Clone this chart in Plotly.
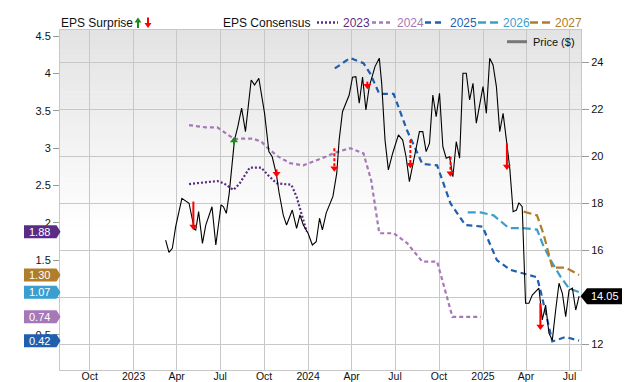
import plotly.graph_objects as go

# ---------------- data ----------------
price_dates = [
    "2023-03-09", "2023-03-16", "2023-03-23", "2023-03-30", "2023-04-12", "2023-04-27",
    "2023-05-08", "2023-05-11", "2023-05-17", "2023-05-25", "2023-06-01", "2023-06-14",
    "2023-06-22", "2023-07-03", "2023-07-08", "2023-07-14", "2023-07-20", "2023-07-31",
    "2023-08-07", "2023-08-15", "2023-08-23", "2023-09-04", "2023-09-11", "2023-09-20",
    "2023-10-02", "2023-10-11", "2023-10-18", "2023-10-27", "2023-11-01", "2023-11-10",
    "2023-11-17", "2023-11-29", "2023-12-08", "2023-12-15", "2023-12-22", "2024-01-01",
    "2024-01-10", "2024-01-18", "2024-01-25", "2024-01-31", "2024-02-08", "2024-02-22",
    "2024-03-01", "2024-03-06", "2024-03-13", "2024-03-21", "2024-03-27", "2024-04-03",
    "2024-04-10", "2024-04-17", "2024-04-24", "2024-05-01", "2024-05-08", "2024-05-20",
    "2024-05-29", "2024-06-03", "2024-06-10", "2024-06-17", "2024-06-26", "2024-07-08",
    "2024-07-17", "2024-07-24", "2024-07-31", "2024-08-12", "2024-08-21", "2024-08-28",
    "2024-09-04", "2024-09-11", "2024-09-18", "2024-09-25", "2024-10-02", "2024-10-09",
    "2024-10-16", "2024-10-23", "2024-10-30", "2024-11-06", "2024-11-13", "2024-11-20",
    "2024-11-27", "2024-12-04", "2024-12-11", "2024-12-18", "2024-12-25", "2025-01-01",
    "2025-01-08", "2025-01-15", "2025-01-22", "2025-01-29", "2025-02-05", "2025-02-12",
    "2025-02-19", "2025-02-26", "2025-03-05", "2025-03-12", "2025-03-17", "2025-03-24",
    "2025-03-31", "2025-04-07", "2025-04-14", "2025-04-21", "2025-04-28", "2025-05-05",
    "2025-05-12", "2025-05-19", "2025-05-26", "2025-06-02", "2025-06-09", "2025-06-16",
    "2025-06-23", "2025-06-30", "2025-07-07", "2025-07-14", "2025-07-21",
]
price_vals = [
    16.44, 15.92, 16.09, 17.01, 18.22, 18.01,
    16.91, 16.87, 17.65, 16.30, 17.08, 17.86,
    16.23, 17.94, 17.86, 17.58, 18.43, 20.70,
    21.27, 22.06, 21.06, 23.26, 23.05, 23.33,
    21.84, 20.21, 19.99, 19.21, 18.50, 17.51,
    17.08, 17.72, 16.94, 17.51, 17.08, 16.73,
    16.23, 16.37, 17.37, 16.87, 17.60, 18.30,
    19.29, 20.70, 21.91, 22.34, 22.62, 23.38,
    23.40, 22.27, 23.38, 21.98, 22.98, 23.83,
    24.19, 23.12, 20.70, 19.43, 20.14, 20.92,
    20.70, 19.99, 18.93, 20.14, 21.06, 21.06,
    20.21, 20.56, 22.62, 21.70, 22.69, 20.42,
    19.93, 19.99, 19.14, 20.63, 19.93, 23.55,
    23.55, 22.41, 23.12, 21.42, 22.27, 22.98,
    21.84, 24.19, 23.90, 22.98, 21.06, 21.84,
    20.70, 19.50, 17.65, 17.72, 18.03, 17.86,
    13.75, 13.75, 14.10, 14.25, 14.39, 13.04,
    13.67, 12.47, 12.18, 13.46, 14.60, 14.17,
    13.18, 14.31, 14.39, 13.46, 14.05,
]

eps2023_dates = ["2023-04-27", "2023-06-25", "2023-07-09", "2023-07-29", "2023-08-11", "2023-09-01",
                 "2023-09-25", "2023-10-09", "2023-10-27", "2023-11-27", "2023-12-08", "2023-12-18",
                 "2023-12-29"]
eps2023_vals = [2.52, 2.56, 2.53, 2.44, 2.53, 2.74, 2.74, 2.64, 2.53, 2.51, 2.35, 2.13, 1.88]

eps2024_dates = ["2023-04-27", "2023-06-01", "2023-06-25", "2023-07-13", "2023-07-31", "2023-08-17",
                 "2023-09-07", "2023-09-25", "2023-10-09", "2023-10-30", "2023-11-24", "2023-12-22",
                 "2024-01-12", "2024-02-08", "2024-02-26", "2024-03-29", "2024-04-26", "2024-05-12",
                 "2024-05-29", "2024-06-28", "2024-07-26", "2024-08-27", "2024-09-27", "2024-10-04",
                 "2024-10-29", "2024-12-27"]
eps2024_vals = [3.31, 3.28, 3.28, 3.20, 3.12, 3.13, 3.13, 3.09, 3.00, 2.89, 2.80, 2.77,
                2.82, 2.89, 2.94, 3.00, 2.93, 2.57, 1.86, 1.86, 1.73, 1.48, 1.48, 1.32,
                0.74, 0.74]

eps2025_dates = ["2024-02-26", "2024-03-29", "2024-04-26", "2024-05-10", "2024-05-29", "2024-06-28",
                 "2024-07-26", "2024-08-27", "2024-09-27", "2024-10-25", "2024-11-25", "2024-12-31",
                 "2025-01-30", "2025-02-27", "2025-03-27", "2025-04-24", "2025-05-01", "2025-05-26",
                 "2025-06-23", "2025-07-21"]
eps2025_vals = [4.07, 4.21, 4.14, 4.00, 3.73, 3.73, 3.24, 2.79, 2.77, 2.26, 1.97, 1.95,
                1.50, 1.37, 1.32, 1.27, 1.10, 0.41, 0.47, 0.42]

eps2026_dates = ["2024-11-30", "2024-12-27", "2025-01-23", "2025-02-24", "2025-03-24", "2025-04-24",
                 "2025-05-08", "2025-05-26", "2025-06-12", "2025-06-30", "2025-07-21"]
eps2026_vals = [2.14, 2.14, 2.10, 1.93, 1.93, 1.91, 1.68, 1.46, 1.28, 1.12, 1.07]

eps2027_dates = ["2025-03-27", "2025-04-24", "2025-05-08", "2025-05-26", "2025-06-23", "2025-07-21"]
eps2027_vals = [2.15, 2.10, 1.84, 1.40, 1.40, 1.30]

# EPS surprise arrows (drawn on the price scale)
surp_dates = ["2023-05-06", "2023-07-30", "2023-10-27", "2024-02-25", "2024-05-04",
              "2024-08-02", "2024-10-25", "2025-02-20", "2025-05-01"]
surp_from = [18.08, 20.50, 19.45, 20.35, 23.19, 20.70, 19.99, 20.56, 13.75]
surp_to = [16.87, 20.83, 19.12, 19.35, 22.87, 19.50, 19.14, 19.43, 12.61]
surp_beat = [False, True, False, False, False, False, False, False, False]
surp_dotted = [False, False, True, True, True, True, True, False, False]

x_tickvals = ["2022-10-01", "2023-01-01", "2023-04-01", "2023-07-01", "2023-10-01", "2024-01-01",
              "2024-04-01", "2024-07-01", "2024-10-01", "2025-01-01", "2025-04-01", "2025-07-01"]
x_ticktext = ["Oct", "2023", "Apr", "Jul", "Oct", "2024", "Apr", "Jul", "Oct", "2025", "Apr", "Jul"]
y1_ticks = [0.5, 1, 1.5, 2, 2.5, 3, 3.5, 4, 4.5]
y1_ticktext = ["0.5", "", "1.5", "2", "2.5", "3", "3.5", "4", "4.5"]   # "1" sits under the 1.07 badge
y2_ticks = [12, 14, 16, 18, 20, 22, 24]
y2_ticktext = ["12", "", "16", "18", "20", "22", "24"]                 # "14" sits under the price tag

series_names = ["2023", "2024", "2025", "2026", "2027"]
series_colors = ["#5b2c83", "#a678b8", "#1f5fae", "#3a9fcf", "#b07d2b"]
series_dash = ["2px,2px", "4px,3px", "6px,4px", "8px,4px", "8px,4px"]

# ---------------- layout helpers ----------------
W, H = 640, 382
ML, MR, MT, MB = 60, 59, 30, 12
PW, PH = W - ML - MR, H - MT - MB
Y1 = [0.027, 4.585]
Y2 = [10.905, 25.39]
FONT = "Liberation Sans, Arial, sans-serif"


def px(x):
    return (x - ML) / PW


def py(y):
    return (H - MB - y) / PH


def y1_to_px(v):
    return (H - MB) - (v - Y1[0]) / (Y1[1] - Y1[0]) * PH


def y2_to_px(v):
    return (H - MB) - (v - Y2[0]) / (Y2[1] - Y2[0]) * PH


def path(points):
    return "M " + " L ".join(f"{px(a):.5f},{py(b):.5f}" for a, b in points) + " Z"


fig = go.Figure()

eps_series = [
    (eps2023_dates, eps2023_vals),
    (eps2024_dates, eps2024_vals),
    (eps2025_dates, eps2025_vals),
    (eps2026_dates, eps2026_vals),
    (eps2027_dates, eps2027_vals),
]
for (d, v), name, col, dash in zip(eps_series, series_names, series_colors, series_dash):
    fig.add_trace(go.Scatter(x=d, y=v, mode="lines", name=name, yaxis="y",
                             line=dict(color=col, width=2.2, dash=dash), showlegend=False,
                             hoverinfo="skip"))

fig.add_trace(go.Scatter(x=price_dates, y=price_vals, mode="lines", name="Price ($)", yaxis="y2",
                         line=dict(color="#000000", width=1.1), showlegend=False, hoverinfo="skip"))

units_per_px = (Y2[1] - Y2[0]) / PH
head_size = 7
for d, a, b, beat, dot in zip(surp_dates, surp_from, surp_to, surp_beat, surp_dotted):
    col = "#1a8a1a" if beat else "#ff0000"
    off = (head_size / 2) * units_per_px
    center = b - off if beat else b + off
    fig.add_trace(go.Scatter(x=[d, d], y=[a, center], mode="lines", yaxis="y2",
                             line=dict(color=col, width=2, dash="3px,2px" if dot else "solid"),
                             showlegend=False, hoverinfo="skip"))
    fig.add_trace(go.Scatter(x=[d], y=[center], mode="markers", yaxis="y2",
                             marker=dict(symbol="triangle-up" if beat else "triangle-down",
                                         size=head_size, color=col, line=dict(width=0)),
                             showlegend=False, hoverinfo="skip"))

shapes = []
annotations = []

# gradient background of the plot area
n_bands = 40
grad_top_px, grad_bot_px = MT, 235
for i in range(n_bands):
    t0 = grad_top_px + (grad_bot_px - grad_top_px) * i / n_bands
    t1 = grad_top_px + (grad_bot_px - grad_top_px) * (i + 1) / n_bands
    f = i / (n_bands - 1)
    c = int(round(0xe3 + (0xff - 0xe3) * f))
    shapes.append(dict(type="rect", xref="paper", yref="paper", x0=0, x1=1, y0=py(t1), y1=py(t0) + 0.001,
                       fillcolor=f"rgb({c},{c},{c})", line=dict(width=0), layer="below"))

# left-side value badges (last consensus values)
for (d, v), col in zip(eps_series, series_colors):
    last = v[-1]
    yc = y1_to_px(last)
    shapes.append(dict(type="path", xref="paper", yref="paper",
                       path=path([(24, yc - 6.5), (56.5, yc - 6.5), (60.5, yc), (56.5, yc + 6.5), (24, yc + 6.5)]),
                       fillcolor=col, line=dict(width=0), layer="above"))
    annotations.append(dict(xref="paper", yref="paper", x=px(27), y=py(yc), text=f"{last:.2f}",
                            showarrow=False, xanchor="left", yanchor="middle",
                            font=dict(family=FONT, size=11, color="#ffffff")))

# right-side price tag
last_price = price_vals[-1]
yc = y2_to_px(last_price)
shapes.append(dict(type="path", xref="paper", yref="paper",
                   path=path([(580.5, yc), (587, yc - 8), (622, yc - 8), (622, yc + 8), (587, yc + 8)]),
                   fillcolor="#000000", line=dict(width=0), layer="above"))
annotations.append(dict(xref="paper", yref="paper", x=px(604.5), y=py(yc), text=f"{last_price:.2f}",
                        showarrow=False, xanchor="center", yanchor="middle",
                        font=dict(family=FONT, size=11, color="#ffffff")))

# top legend
LY = 23
annotations.append(dict(xref="paper", yref="paper", x=px(59), y=py(LY), text="EPS Surprise",
                        showarrow=False, xanchor="left", yanchor="middle",
                        font=dict(family=FONT, size=12, color="#111111")))
shapes.append(dict(type="path", xref="paper", yref="paper",
                   path=path([(134.5, 22.5), (138, 17.5), (141.5, 22.5), (139, 22.5), (139, 28),
                              (137, 28), (137, 22.5)]),
                   fillcolor="#1a8a1a", line=dict(width=0), layer="above"))
shapes.append(dict(type="path", xref="paper", yref="paper",
                   path=path([(147, 17.5), (149, 17.5), (149, 23), (151.5, 23), (148, 28),
                              (144.5, 23), (147, 23)]),
                   fillcolor="#ff0000", line=dict(width=0), layer="above"))
annotations.append(dict(xref="paper", yref="paper", x=px(221), y=py(LY), text="EPS Consensus",
                        showarrow=False, xanchor="left", yanchor="middle",
                        font=dict(family=FONT, size=12, color="#111111")))
leg_x = [(317, 338, 341), (372, 392, 395), (425, 445, 448), (478, 498, 501), (530, 550, 553)]
for (a, b, t), name, col, dash in zip(leg_x, series_names, series_colors, series_dash):
    shapes.append(dict(type="line", xref="paper", yref="paper", x0=px(a), x1=px(b), y0=py(22.5), y1=py(22.5),
                       line=dict(color=col, width=2.5, dash=dash), layer="above"))
    annotations.append(dict(xref="paper", yref="paper", x=px(t), y=py(LY), text=name,
                            showarrow=False, xanchor="left", yanchor="middle",
                            font=dict(family=FONT, size=12, color=col)))

shapes.append(dict(type="line", xref="paper", yref="paper", x0=px(507), x1=px(527), y0=py(41.7), y1=py(41.7),
                   line=dict(color="#777777", width=3), layer="above"))
annotations.append(dict(xref="paper", yref="paper", x=px(531), y=py(41.7), text="Price ($)",
                        showarrow=False, xanchor="left", yanchor="middle",
                        font=dict(family=FONT, size=11, color="#111111")))

GRID = "#c8c8c8"
fig.update_layout(
    width=W, height=H,
    margin=dict(l=ML, r=MR, t=MT, b=MB, pad=0, autoexpand=False),
    paper_bgcolor="#ffffff", plot_bgcolor="#ffffff",
    font=dict(family=FONT, size=11, color="#111111"),
    showlegend=False,
    shapes=shapes, annotations=annotations,
    xaxis=dict(type="date", range=["2022-07-31", "2025-07-25"], tickvals=x_tickvals, ticktext=x_ticktext,
               showgrid=True, gridcolor=GRID, gridwidth=1, showline=True, linecolor=GRID, linewidth=1,
               mirror=True, ticks="", tickfont=dict(size=10.5, color="#111111"), zeroline=False,
               automargin=False, fixedrange=True, ticklabelstandoff=-4),
    yaxis=dict(range=Y1, tickvals=y1_ticks, ticktext=y1_ticktext, showgrid=False,
               showline=True, linecolor=GRID, linewidth=1, mirror=True, ticks="outside", ticklen=6,
               tickcolor="#999999", tickfont=dict(size=11, color="#111111"), zeroline=False,
               automargin=False),
    yaxis2=dict(range=Y2, tickvals=y2_ticks, ticktext=y2_ticktext, overlaying="y", side="right",
                showgrid=True, gridcolor=GRID, gridwidth=1, showline=False, ticks="outside", ticklen=7,
                tickcolor="#999999", tickfont=dict(size=11, color="#111111"), zeroline=False,
                automargin=False),
)

fig.write_html("out.html", config={"displayModeBar": False},
               post_script="document.body.style.margin='0px';")
